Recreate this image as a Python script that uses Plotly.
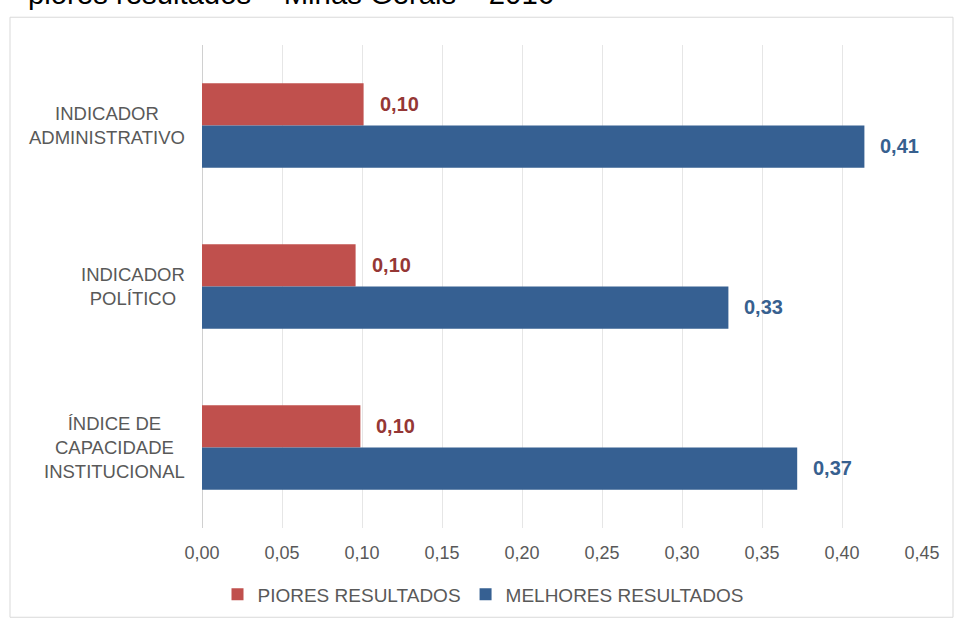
import plotly.graph_objects as go

categories = ["INDICADOR<br>ADMINISTRATIVO", "INDICADOR<br>POLÍTICO", "ÍNDICE DE<br>CAPACIDADE<br>INSTITUCIONAL"]
piores = [0.101, 0.096, 0.099]
melhores = [0.414, 0.329, 0.372]
series_names = ["PIORES RESULTADOS", "MELHORES RESULTADOS"]
x_ticks = [0, 0.05, 0.10, 0.15, 0.20, 0.25, 0.30, 0.35, 0.40, 0.45]
title_text = "piores resultados – Minas Gerais – 2016"

RED = "#C0504D"
BLUE = "#366092"
RED_LBL = "#953735"
BLUE_LBL = "#37608F"
GREY = "#595959"
FONT = "Liberation Sans, Arial, sans-serif"

W, H = 955, 626
L, R, T, B = 202, 33, 45, 94
pw, ph = W - L - R, H - T - B

def px_to_paper_x(px):
    return (px - L) / pw

def px_to_paper_y(py):
    return (H - B - py) / ph

fig = go.Figure()
fig.add_trace(go.Bar(y=categories, x=piores, name=series_names[0], orientation="h",
                     marker=dict(color=RED, line=dict(width=0))))
fig.add_trace(go.Bar(y=categories, x=melhores, name=series_names[1], orientation="h",
                     marker=dict(color=BLUE, line=dict(width=0))))

ann = []
# data labels
for vals, shift, col in [(piores, 22, RED_LBL), (melhores, -20, BLUE_LBL)]:
    for c, v in zip(categories, vals):
        ann.append(dict(x=v, y=c, xref="x", yref="y", text=f"{v:.2f}".replace(".", ","),
                        showarrow=False, xanchor="left", yanchor="middle", xshift=14, yshift=shift,
                        font=dict(family=FONT, size=20, color=col, weight="bold")))
# category labels
for c in categories:
    ann.append(dict(x=px_to_paper_x(187), y=c, xref="paper", yref="y", text=c, showarrow=False,
                    xanchor="right", yanchor="middle", align="center",
                    font=dict(family=FONT, size=18.5, color=GREY)))
# cut-off title (only its lower part shows, as in the source image)
ann.append(dict(x=px_to_paper_x(26), y=px_to_paper_y(12), xref="paper", yref="paper",
                text=title_text, showarrow=False, xanchor="left", yanchor="bottom",
                font=dict(family=FONT, size=29.3, color="#000000")))

fig.update_layout(
    width=W, height=H,
    margin=dict(l=L, r=R, t=T, b=B),
    paper_bgcolor="white", plot_bgcolor="white",
    separators=",.",
    barmode="group", bargap=0.475, bargroupgap=0,
    font=dict(family=FONT, size=18, color=GREY),
    annotations=ann,
    legend=dict(orientation="h", x=px_to_paper_x(483), xanchor="center",
                y=px_to_paper_y(599), yanchor="middle",
                font=dict(family=FONT, size=19, color=GREY), itemwidth=30),
    shapes=[dict(type="rect", xref="paper", yref="paper",
                 x0=px_to_paper_x(10), x1=px_to_paper_x(953),
                 y0=px_to_paper_y(622), y1=px_to_paper_y(17),
                 line=dict(color="#D9D9D9", width=1), layer="below")],
)
fig.update_xaxes(range=[0, 0.45], tickvals=x_ticks, tickformat=".2f",
                 showgrid=True, gridcolor="#E6E6E6", gridwidth=1,
                 zeroline=True, zerolinecolor="#D0D0D0", zerolinewidth=1,
                 showline=False, ticks="", ticklabelstandoff=12,
                 tickfont=dict(family=FONT, size=18, color=GREY))
fig.update_yaxes(autorange="reversed", showticklabels=False, showgrid=False,
                 zeroline=False, showline=False, ticks="")

fig.write_html("out.html", config={"displayModeBar": False},
               post_script="document.body.style.margin='0';")
